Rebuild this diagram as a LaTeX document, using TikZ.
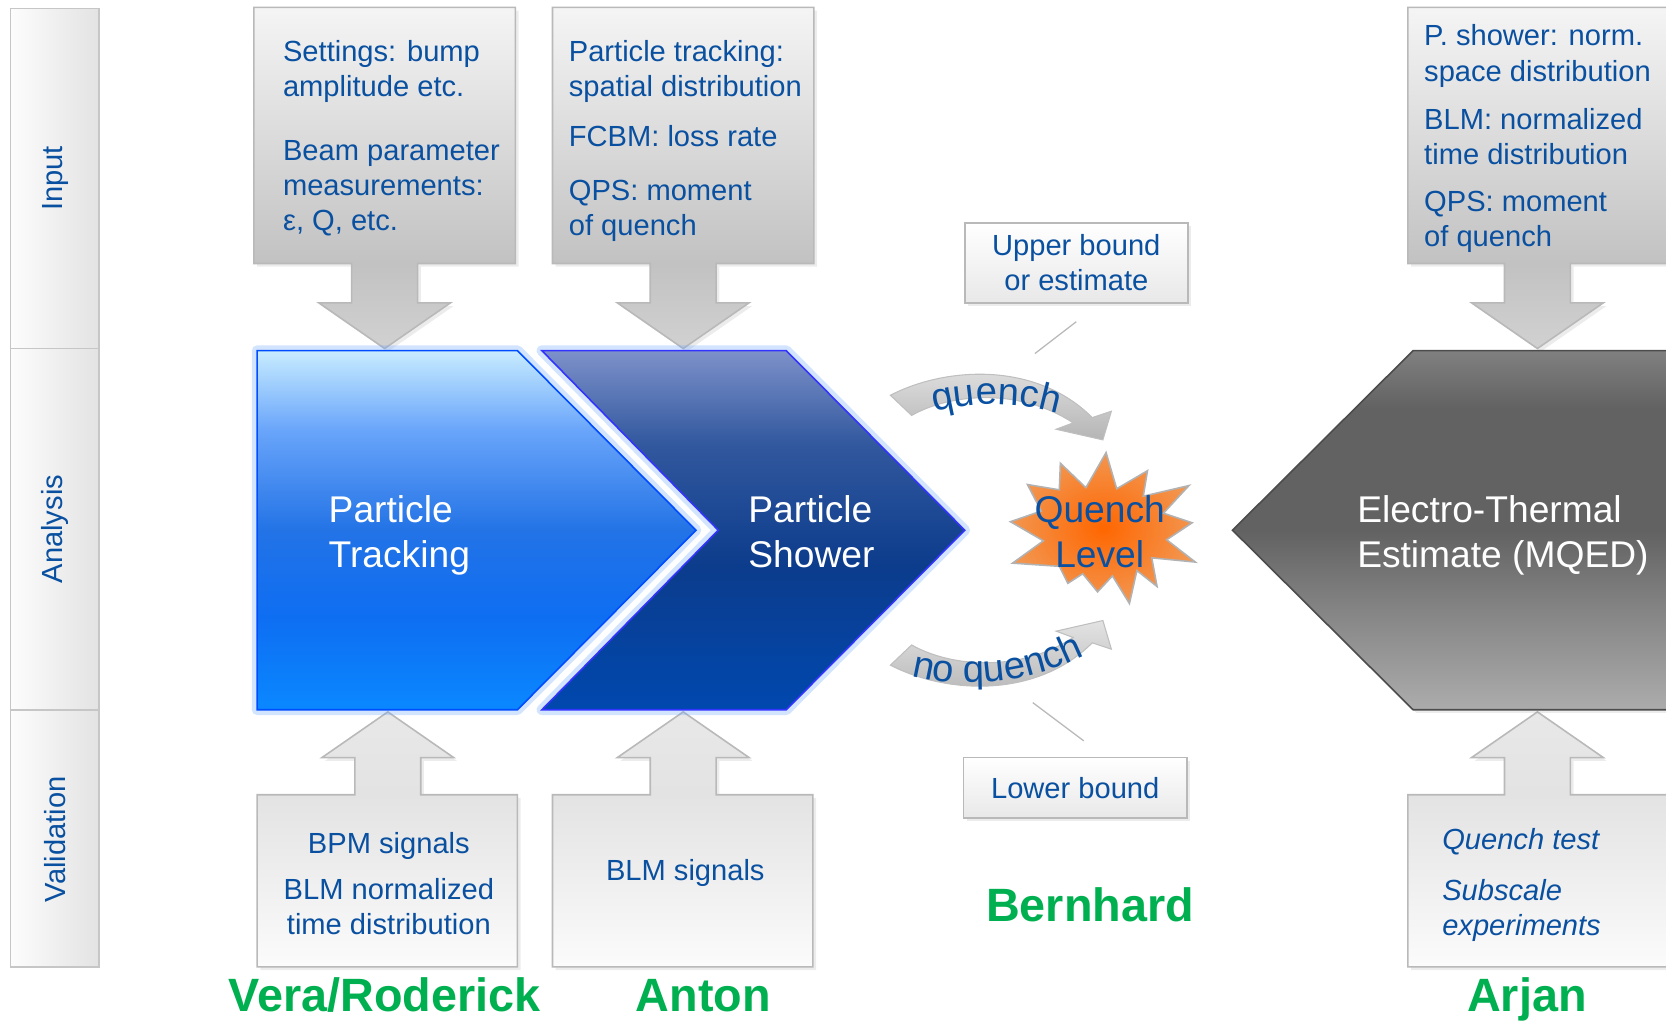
\documentclass[tikz,border=0pt]{standalone}
\usepackage{fontspec}
\setmainfont{Liberation Sans}
\usetikzlibrary{shadows,decorations.text}

\definecolor{textblue}{RGB}{10,80,160}
\definecolor{namegreen}{RGB}{0,176,80}
\definecolor{glowblue}{RGB}{110,165,255}
\definecolor{trackA}{RGB}{200,236,255}
\definecolor{trackB}{RGB}{105,165,250}
\definecolor{trackC}{RGB}{35,115,230}
\definecolor{trackD}{RGB}{14,110,242}
\definecolor{trackE}{RGB}{10,136,255}
\definecolor{showerA}{RGB}{125,145,202}
\definecolor{showerB}{RGB}{50,88,158}
\definecolor{showerC}{RGB}{12,60,140}
\definecolor{showerD}{RGB}{0,72,175}
\definecolor{mqedA}{RGB}{128,128,128}
\definecolor{mqedB}{RGB}{98,98,98}
\definecolor{mqedC}{RGB}{135,135,135}
\definecolor{mqedD}{RGB}{172,172,172}
\definecolor{starcore}{RGB}{255,102,0}
\definecolor{staredge}{RGB}{242,150,80}
\colorlet{calloutA}{gray!8}
\colorlet{calloutB}{gray!48}
\colorlet{calloutC}{gray!36}
\colorlet{inA}{gray!3}
\colorlet{inB}{gray!22}
\colorlet{inC}{gray!18}

\pgfdeclareverticalshading{trackfill}{100bp}{color(0bp)=(trackE); color(25bp)=(trackE); color(38bp)=(trackD); color(50bp)=(trackC); color(64bp)=(trackB); color(75bp)=(trackA); color(100bp)=(trackA)}
\pgfdeclareverticalshading{showerfill}{100bp}{color(0bp)=(showerD); color(25bp)=(showerD); color(45bp)=(showerC); color(62bp)=(showerB); color(75bp)=(showerA); color(100bp)=(showerA)}
\pgfdeclareverticalshading{mqedfill}{100bp}{color(0bp)=(mqedD); color(25bp)=(mqedD); color(38bp)=(mqedC); color(50bp)=(mqedB); color(67bp)=(mqedB); color(75bp)=(mqedA); color(100bp)=(mqedA)}
\pgfdeclareverticalshading{downcallout}{100bp}{color(0bp)=(calloutC); color(25bp)=(calloutC); color(37.5bp)=(calloutB); color(75bp)=(calloutA); color(100bp)=(calloutA)}
\pgfdeclareverticalshading{upcallout}{100bp}{color(0bp)=(inA); color(25bp)=(inA); color(58.75bp)=(inB); color(75bp)=(inC); color(100bp)=(inC)}

\newcommand\arcfont{\fontsize{18}{20}\selectfont}

\begin{document}
\begin{tikzpicture}[x=0.5pt, y=-0.5pt,
	boxtext/.style={font=\fontsize{13.7}{16.5}\selectfont, text=textblue, inner sep=0pt},
	stage/.style={font=\fontsize{17.5}{21}\selectfont, inner sep=0pt, align=left, anchor=north west},
	person/.style={font=\fontsize{22}{26}\selectfont\bfseries, text=namegreen, inner sep=0pt, anchor=base},
	shadowed/.style={drop shadow={opacity=.15, shadow xshift=1.5pt, shadow yshift=-1.5pt}},
	callout/.style={shadowed, draw=gray!55, line width=.75pt},
	bar/.style={draw=gray!45, line width=.75pt, left color=gray!2, right color=gray!22},
	glow/.style={preaction={draw=#1, line width=5pt, line join=round, opacity=.3}},
	bound/.style={callout, boxtext, top color=white, bottom color=gray!18, minimum width=105pt, align=center},
	arcarrow/.style={draw=gray!50, line width=.5pt, top color=gray!22, bottom color=gray!58},
	leader/.style={draw=gray!55, line width=.6pt}]
	\useasboundingbox (0,0) rectangle (1568,960);

	% row labels
	\foreach \ya/\yb in {8/328, 328/668, 668/910}
		\draw[bar] (10,\ya) rectangle (93,\yb);
	\node[boxtext, rotate=90] (input) at (52,168) {Input};
	\node[boxtext, rotate=90] (analysis) at (52,498) {Analysis};
	\node[boxtext, rotate=90] (validation) at (52,790) {Validation};

	% inputs, pointing down
	\foreach \cx/\l/\r in {362/239/485, 643/520/766, 1447/1325/1572}
		\shadedraw[callout, shading=downcallout] (\l,7) -- (\r,7) -- (\r,248) -- (\cx+31,248) -- (\cx+31,285) -- (\cx+62,285) -- (\cx,328) -- (\cx-62,285) -- (\cx-31,285) -- (\cx-31,248) -- (\l,248) -- cycle;

	% validation, pointing up
	\foreach \cx/\l/\r in {365/242/487, 643/520/765, 1447/1325/1572}
		\shadedraw[callout, shading=upcallout] (\l,910) -- (\l,748) -- (\cx-31,748) -- (\cx-31,713) -- (\cx-62,713) -- (\cx,670) -- (\cx+62,713) -- (\cx+31,713) -- (\cx+31,748) -- (\r,748) -- (\r,910) -- cycle;

	% analysis chain
	\shadedraw[glow=glowblue, draw=blue!70!cyan, line width=.75pt, shading=trackfill] (242,330) -- (487,330) -- (655,499) -- (487,668) -- (242,668) -- cycle;
	\shadedraw[glow=glowblue, draw=blue!80, line width=.75pt, shading=showerfill] (510,330) -- (740,330) -- (908,499) -- (740,668) -- (510,668) -- (676,499) -- cycle;
	\shadedraw[shadowed, draw=gray!60!black, line width=.75pt, shading=mqedfill] (1160,499) -- (1330,330) -- (1580,330) -- (1580,668) -- (1330,668) -- cycle;

	\node[stage, text=white] (tracking) at (309,466) {Particle\\Tracking};
	\node[stage, text=white] (shower) at (704,466) {Particle\\Shower};
	\node[stage, text=white] (mqed) at (1277,466) {Electro-Thermal\\Estimate (MQED)};

	% quench level
	\begin{scope}[shift={(1037,497)}]
		\shadedraw[draw=gray!60, line width=.75pt, inner color=starcore, outer color=staredge] (4,-71) -- (14,-37) -- (43,-54) -- (39,-30) -- (82,-40) -- (58,-14) -- (85,-5) -- (61,11) -- (88,32) -- (47,28) -- (52,55) -- (33,40) -- (26,71) -- (10,45) -- (-4,60) -- (-18,43) -- (-32,52) -- (-40,36) -- (-84,33) -- (-55,12) -- (-86,-6) -- (-57,-16) -- (-70,-41) -- (-40,-36) -- (-39,-61) -- (-15,-38) -- cycle;
	\end{scope}
	\node[stage, anchor=north, align=center, text=textblue] (level) at (1035,466) {Quench\\Level};

	% outcomes
	\shadedraw[arcarrow] (838,372) .. controls (890,345) and (975,340) .. (1028,393) -- (1046,387) -- (1038,414) -- (994,404) -- (1010,398) .. controls (960,365) and (895,370) .. (858,391) -- cycle;
	\path[decorate, decoration={text along path, text align=center, text color=textblue, text={|\arcfont|quench}}] (860,394) .. controls (905,377) and (965,375) .. (1015,396);
	\shadedraw[arcarrow] (838,626) .. controls (890,653) and (975,658) .. (1028,605) -- (1046,611) -- (1038,584) -- (994,594) -- (1010,600) .. controls (960,633) and (895,628) .. (858,607) -- cycle;
	\path[decorate, decoration={text along path, text align=center, text color=textblue, text={|\arcfont|no quench}}] (850,634) .. controls (905,650) and (970,644) .. (1028,613);

	\node[bound, minimum height=37.5pt] (upper) at (1013,247.5) {Upper bound\\or estimate};
	\node[bound, minimum height=28.5pt] (lower) at (1012,741.5) {Lower bound};
	\draw[leader] ([yshift=-8.5pt]upper.south) -- ++(-39,30);
	\draw[leader] ([xshift=4pt,yshift=7.5pt]lower.north) -- ++(-48,-36);

	% box texts
	\node[boxtext, anchor=north west, align=left] (settings) at (266,38) {Settings: bump\\amplitude etc.\\[13.5pt]Beam parameter\\measurements:\\ε, Q, etc.};
	\node[boxtext, anchor=north west, align=left] (trackin) at (535,38) {Particle tracking:\\spatial distribution\\[7pt]FCBM: loss rate\\[8.5pt]QPS: moment\\of quench};
	\node[boxtext, anchor=north west, align=left] (showerin) at (1340,23) {P. shower: norm.\\space distribution\\[6.5pt]BLM: normalized\\time distribution\\[5.5pt]QPS: moment\\of quench};
	\node[boxtext, anchor=north, align=center] (bpm) at (366,783) {BPM signals\\[5pt]BLM normalized\\time distribution};
	\node[boxtext] (blm) at (645,822) {BLM signals};
	\node[boxtext, font=\fontsize{13.7}{16.5}\selectfont\itshape, anchor=north west, align=left] (tests) at (1357,779) {Quench test\\[7.5pt]Subscale\\experiments};

	% who does what
	\node[person] (vera) at (362,952) {Vera/Roderick};
	\node[person] (anton) at (662,952) {Anton};
	\node[person] (bernhard) at (1026,867) {Bernhard};
	\node[person] (arjan) at (1437,952) {Arjan};
\end{tikzpicture}
\end{document}
